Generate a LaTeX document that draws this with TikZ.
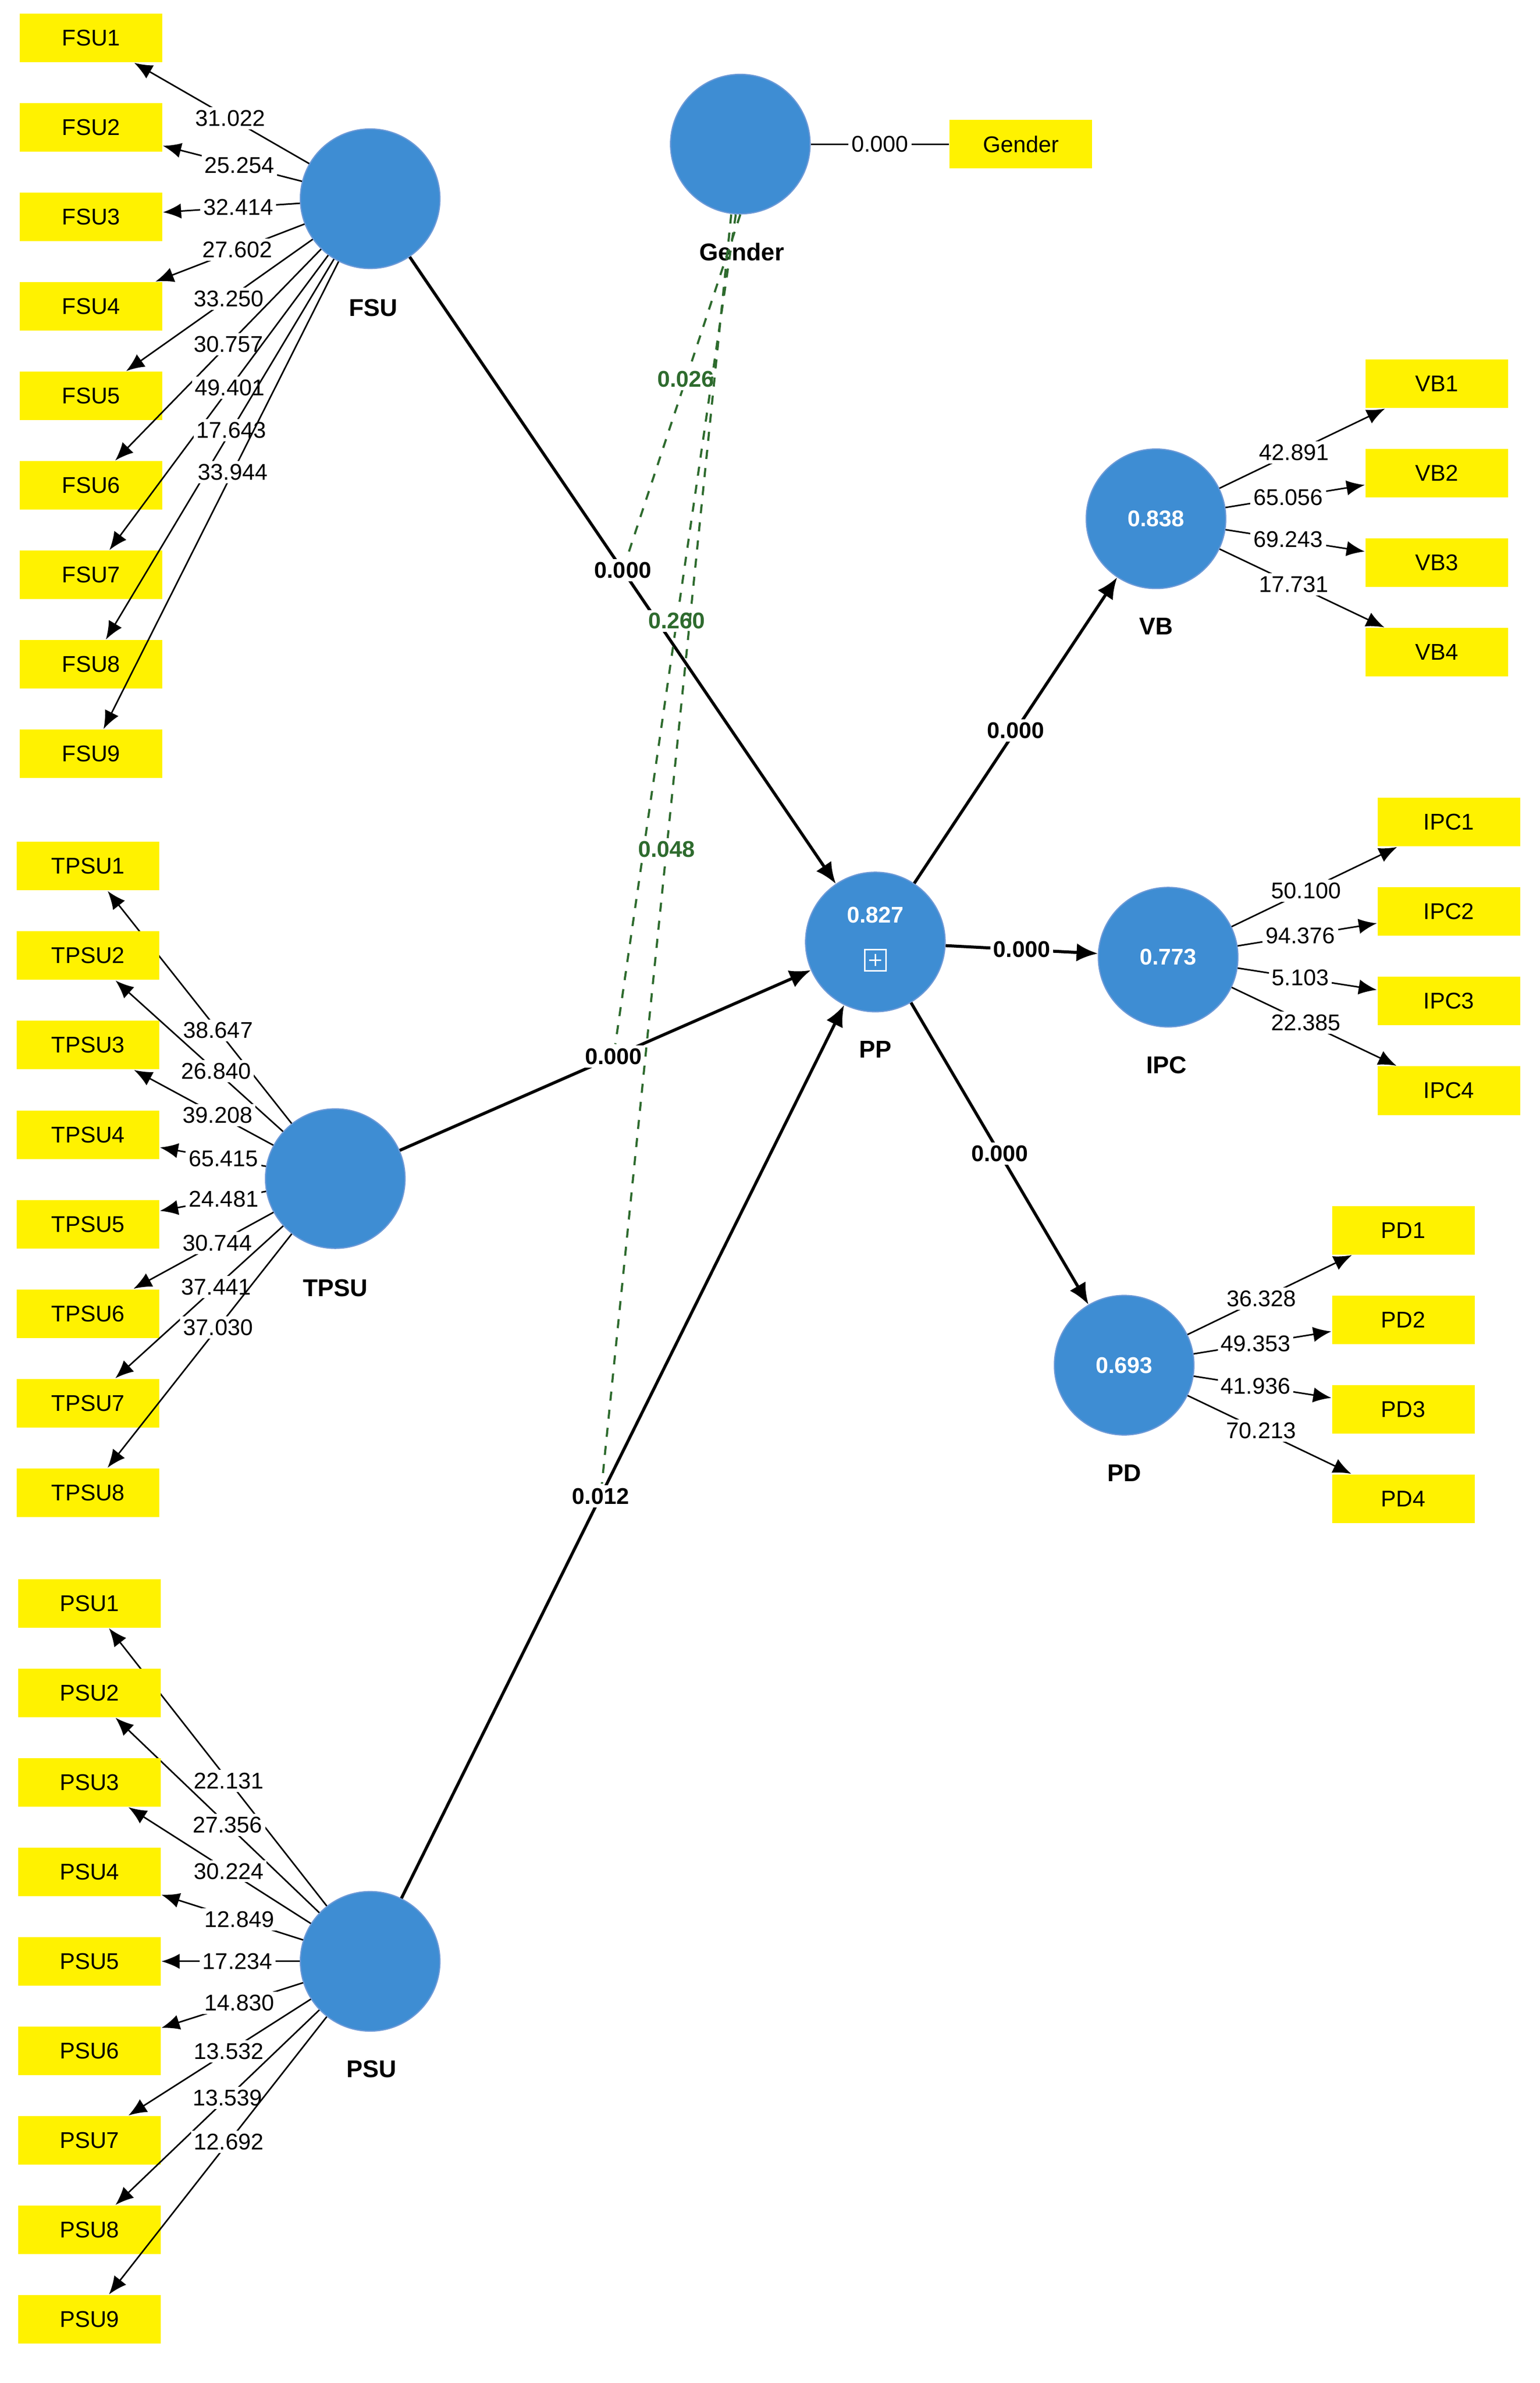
\documentclass[tikz,border=0pt]{standalone}
\usepackage{fontspec}
\setmainfont{Liberation Sans}
\usetikzlibrary{arrows.meta, positioning, calc}

\begin{document}
\begin{tikzpicture}[
    x=0.5pt, y=-0.5pt,
    font=\fontsize{7.5}{9}\selectfont,
    lv/.style={circle, fill=cyan!60!blue!80, draw=cyan!50!blue!60, minimum size=46pt, inner sep=0pt, align=center, text=white, font=\fontsize{7.5}{9}\selectfont\bfseries},
    ind/.style={fill=yellow, minimum width=47pt, minimum height=16pt, inner sep=0pt},
    lvname/.style={font=\fontsize{8}{9}\selectfont\bfseries},
    arrow/.style={-{Latex[length=6pt, width=5pt]}, line width=0.5pt},
    relpath/.style={-{Latex[length=7pt, width=6pt]}, line width=1pt},
    mod/.style={dashed, line width=0.7pt, draw=gray!60!green!60!black},
    val/.style={fill=white, inner sep=1pt, font=\fontsize{7.5}{9}\selectfont},
    pval/.style={fill=white, inner sep=1pt, font=\fontsize{7.5}{9}\selectfont\bfseries},
    mval/.style={fill=white, inner sep=1pt, text=gray!60!green!60!black, font=\fontsize{7.5}{9}\selectfont\bfseries}
]
    \useasboundingbox (0,0) rectangle (1015,1571);

    % Constructs
    \node[lv] (FSU) at (244,131) {};
    \node[lv] (Gender) at (488,95) {};
    \node[lv] (TPSU) at (221,777) {};
    \node[lv] (PSU) at (244,1293) {};
    \node[lv] (PP) at (577,621) {0.827\\[9pt]};
    \node[lv] (VB) at (762,342) {0.838};
    \node[lv] (IPC) at (770,631) {0.773};
    \node[lv] (PD) at (741,900) {0.693};
    \draw[white, line width=0.5pt] ($(PP)+(-7,5)$) rectangle ($(PP)+(7,19)$)
        ($(PP)+(-4,12)$) -- ($(PP)+(4,12)$) ($(PP)+(0,8)$) -- ($(PP)+(0,16)$);

    \node[lvname] at (246,203) {FSU};
    \node[lvname] at (489,166) {Gender};
    \node[lvname] at (221,849) {TPSU};
    \node[lvname] at (245,1364) {PSU};
    \node[lvname] at (577,692) {PP};
    \node[lvname] at (762,413) {VB};
    \node[lvname] at (769,702) {IPC};
    \node[lvname] at (741,971) {PD};

    % Indicators, left
    \foreach \i/\v in {1/31.022, 2/25.254, 3/32.414, 4/27.602, 5/33.250, 6/30.757, 7/49.401, 8/17.643, 9/33.944} {
        \node[ind] (FSU\i) at (60,{25+59*(\i-1)}) {FSU\i};
        \draw[arrow] (FSU) -- node[val, pos=0.45] {\v} (FSU\i);
    }
    \foreach \i/\v in {1/38.647, 2/26.840, 3/39.208, 4/65.415, 5/24.481, 6/30.744, 7/37.441, 8/37.030} {
        \node[ind] (TPSU\i) at (58,{571+59*(\i-1)}) {TPSU\i};
        \draw[arrow] (TPSU) -- node[val, pos=0.4] {\v} (TPSU\i);
    }
    \foreach \i/\v in {1/22.131, 2/27.356, 3/30.224, 4/12.849, 5/17.234, 6/14.830, 7/13.532, 8/13.539, 9/12.692} {
        \node[ind] (PSU\i) at (59,{1057+59*(\i-1)}) {PSU\i};
        \draw[arrow] (PSU) -- node[val, pos=0.45] {\v} (PSU\i);
    }

    % Indicators, right
    \foreach \i/\v in {1/42.891, 2/65.056, 3/69.243, 4/17.731} {
        \node[ind] (VB\i) at (947,{253+59*(\i-1)}) {VB\i};
        \draw[arrow] (VB) -- node[val, pos=0.45] {\v} (VB\i);
    }
    \foreach \i/\v in {1/50.100, 2/94.376, 3/5.103, 4/22.385} {
        \node[ind] (IPC\i) at (955,{542+59*(\i-1)}) {IPC\i};
        \draw[arrow] (IPC) -- node[val, pos=0.45] {\v} (IPC\i);
    }
    \foreach \i/\v in {1/36.328, 2/49.353, 3/41.936, 4/70.213} {
        \node[ind] (PD\i) at (925,{811+59*(\i-1)}) {PD\i};
        \draw[arrow] (PD) -- node[val, pos=0.45] {\v} (PD\i);
    }
    \node[ind] (GenderI) at (673,95) {Gender};
    \draw[line width=0.5pt] (Gender) -- node[val] {0.000} (GenderI);

    % Structural paths
    \draw[relpath] (FSU) -- node[pval, pos=0.5] (pFSU) {0.000} (PP);
    \draw[relpath] (TPSU) -- node[pval, pos=0.52] (pTPSU) {0.000} (PP);
    \draw[relpath] (PSU) -- node[pval, pos=0.45] (pPSU) {0.012} (PP);
    \draw[relpath] (PP) -- node[pval] {0.000} (VB);
    \draw[relpath] (PP) -- node[pval] {0.000} (IPC);
    \draw[relpath] (PP) -- node[pval] {0.000} (PD);

    % Moderating effects
    \draw[mod] (Gender.south) -- node[mval, pos=0.48] {0.026} (pFSU);
    \draw[mod] ($(Gender.south)+(-3,0)$) -- node[mval, pos=0.49] {0.260} (pTPSU);
    \draw[mod] ($(Gender.south)+(-6,0)$) -- node[mval, pos=0.5] {0.048} (pPSU);
\end{tikzpicture}
\end{document}
